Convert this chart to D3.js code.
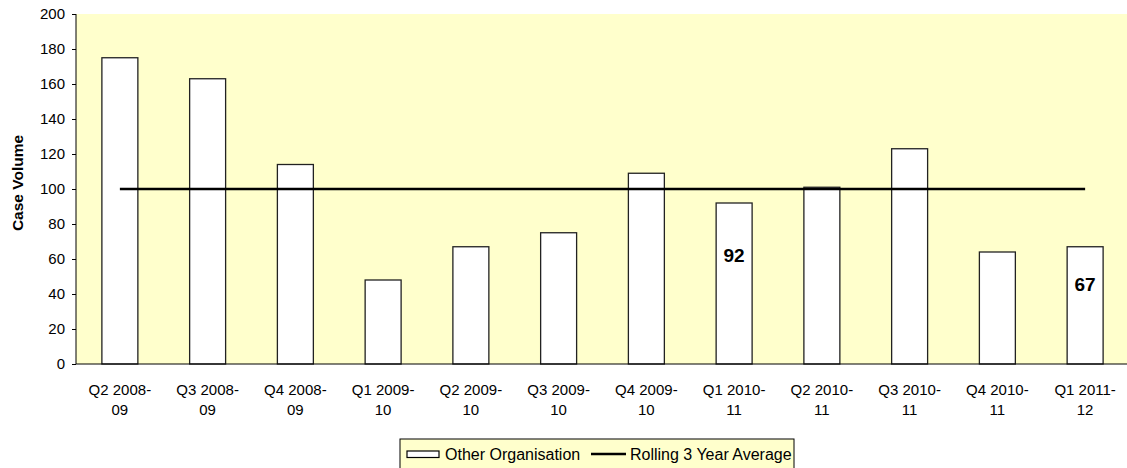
<!DOCTYPE html>
<html>
<head>
<meta charset="utf-8">
<script src="https://cdn.jsdelivr.net/npm/d3@7"></script>
<style>
  html, body { margin: 0; padding: 0; background: #fff; }
  svg { display: block; font-family: "Liberation Sans", Arial, sans-serif; }
</style>
</head>
<body>
<svg id="chart" width="1127" height="468"></svg>
<script>
// Quarterly case volumes for the organisation, with the rolling 3 year average
const quarters = ["Q2 2008-09", "Q3 2008-09", "Q4 2008-09", "Q1 2009-10", "Q2 2009-10", "Q3 2009-10",
                  "Q4 2009-10", "Q1 2010-11", "Q2 2010-11", "Q3 2010-11", "Q4 2010-11", "Q1 2011-12"];
const caseVolume = [175, 163, 114, 48, 67, 75, 109, 92, 101, 123, 64, 67];
const rollingAverage = [100, 100, 100, 100, 100, 100, 100, 100, 100, 100, 100, 100];
const labelledQuarters = ["Q1 2010-11", "Q1 2011-12"];
const yTicks = [0, 20, 40, 60, 80, 100, 120, 140, 160, 180, 200];
const seriesNames = ["Other Organisation", "Rolling 3 Year Average"];

const svg = d3.select("#chart");
const plot = { left: 76, top: 14, right: 1129, bottom: 364 };

const x = d3.scaleBand().domain(quarters).range([plot.left, plot.right]).paddingInner(0.59).paddingOuter(0.295);
const y = d3.scaleLinear().domain([0, 200]).range([plot.bottom, plot.top]);

// plot background
svg.append("rect")
  .attr("x", plot.left).attr("y", plot.top)
  .attr("width", plot.right - plot.left).attr("height", plot.bottom - plot.top)
  .attr("fill", "#FFFFCC");

// bars
svg.append("g").selectAll("rect").data(quarters).join("rect")
  .attr("x", d => x(d))
  .attr("y", (d, i) => y(caseVolume[i]))
  .attr("width", x.bandwidth())
  .attr("height", (d, i) => y(0) - y(caseVolume[i]))
  .attr("fill", "#fff")
  .attr("stroke", "#222")
  .attr("stroke-width", 1.3);

// rolling average line
const line = d3.line()
  .x((d, i) => x(quarters[i]) + x.bandwidth() / 2)
  .y(d => y(d));
svg.append("path").datum(rollingAverage)
  .attr("d", line)
  .attr("fill", "none")
  .attr("stroke", "#000")
  .attr("stroke-width", 2.4);

// value labels
svg.append("g").selectAll("text").data(quarters.filter(q => labelledQuarters.includes(q))).join("text")
  .attr("x", d => x(d) + x.bandwidth() / 2)
  .attr("y", d => y(caseVolume[quarters.indexOf(d)] * 0.68) + 7)
  .attr("text-anchor", "middle")
  .attr("font-size", 19)
  .attr("font-weight", "bold")
  .text(d => caseVolume[quarters.indexOf(d)]);

// y axis
const yAxis = svg.append("g")
  .attr("transform", `translate(${plot.left},0)`)
  .call(d3.axisLeft(y).tickValues(yTicks).tickSize(4).tickPadding(7).tickFormat(d3.format("d")));
yAxis.select(".domain").attr("stroke", "#000").attr("d", `M0,${plot.top}V${plot.bottom}`);
yAxis.selectAll(".tick line").attr("stroke", "#000");
yAxis.selectAll(".tick text").attr("font-size", 15).attr("fill", "#000")
  .attr("font-family", "Liberation Sans, Arial, sans-serif");

// x axis baseline and two-line category labels
svg.append("line")
  .attr("x1", plot.left).attr("x2", plot.right)
  .attr("y1", plot.bottom).attr("y2", plot.bottom)
  .attr("stroke", "#000");
const xl = svg.append("g").selectAll("text").data(quarters).join("text")
  .attr("x", d => x(d) + x.bandwidth() / 2)
  .attr("y", plot.bottom + 31)
  .attr("text-anchor", "middle")
  .attr("font-size", 15)
  .attr("fill", "#000");
xl.append("tspan").attr("x", d => x(d) + x.bandwidth() / 2).text(d => d.split("-")[0] + "-");
xl.append("tspan").attr("x", d => x(d) + x.bandwidth() / 2).attr("dy", 20).text(d => d.split("-")[1]);

// y axis title
svg.append("text")
  .attr("transform", "translate(23,183) rotate(-90)")
  .attr("text-anchor", "middle")
  .attr("font-size", 15.5)
  .attr("font-weight", "bold")
  .text("Case Volume");

// legend
const legend = svg.append("g").attr("transform", "translate(400,439)");
legend.append("rect")
  .attr("x", 0).attr("y", 0).attr("width", 394).attr("height", 32)
  .attr("fill", "#FFFFCC").attr("stroke", "#000");
legend.append("rect")
  .attr("x", 7).attr("y", 12).attr("width", 32).attr("height", 6.5)
  .attr("fill", "#fff").attr("stroke", "#000").attr("stroke-width", 1.2);
legend.append("text").attr("x", 45).attr("y", 20.5).attr("font-size", 16).text(seriesNames[0]);
legend.append("line").attr("x1", 191).attr("x2", 226).attr("y1", 15).attr("y2", 15)
  .attr("stroke", "#000").attr("stroke-width", 2.4);
legend.append("text").attr("x", 230).attr("y", 20.5).attr("font-size", 16).text(seriesNames[1]);
</script>
</body>
</html>
